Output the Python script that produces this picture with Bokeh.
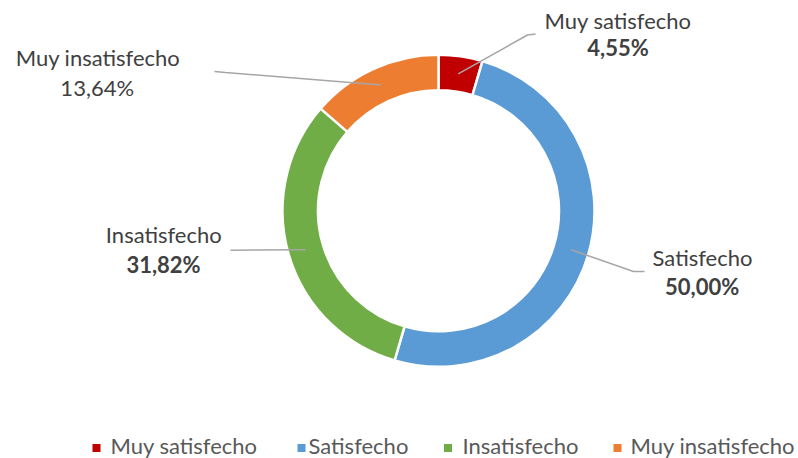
import math
from bokeh.plotting import figure
from bokeh.models import ColumnDataSource
from bokeh.core.properties import value
from bokeh.embed import file_html
from bokeh.resources import INLINE

# ---- data ----
categories = ["Muy satisfecho", "Satisfecho", "Insatisfecho", "Muy insatisfecho"]
percentages = [4.55, 50.00, 31.82, 13.64]
pct_labels = ["4,55%", "50,00%", "31,82%", "13,64%"]
pct_bold = [True, True, True, False]
colors = ["#C00000", "#5B9BD5", "#70AD47", "#ED7D31"]

# ---- layout (pixels in the picture) ----
W, H = 798, 458
FONT = "Lato"
FS = "22px"
TDY = -8.5  # text baseline correction

def X(xw):
    return xw

def Y(yw):
    return H - yw

cx_w, cy_w = 438.0, 210.3
r_out, r_in = 156.0, 120.5
r_mid = (r_out + r_in) / 2

p = figure(width=W, height=H, x_range=(0, W), y_range=(0, H),
           output_backend="svg", toolbar_location=None,
           min_border=0, min_border_left=0, min_border_right=0,
           min_border_top=0, min_border_bottom=0)
p.axis.visible = False
p.grid.visible = False
p.outline_line_color = None
p.background_fill_color = "white"
p.border_fill_color = "white"

# ---- donut wedges ----
total = sum(percentages)
starts, ends, mids = [], [], []
cum = 0.0
for v in percentages:
    f0 = cum / total
    cum += v
    f1 = cum / total
    starts.append(math.pi / 2 - f0 * 2 * math.pi)
    ends.append(math.pi / 2 - f1 * 2 * math.pi)
    mids.append((f0 + f1) / 2)

src = ColumnDataSource(dict(
    x=[X(cx_w)] * 4, y=[Y(cy_w)] * 4,
    start=starts, end=ends, color=colors, cat=categories))
p.annular_wedge(x="x", y="y", inner_radius=r_in, outer_radius=r_out,
                inner_radius_units="screen", outer_radius_units="screen",
                start_angle="start", end_angle="end", direction="clock",
                fill_color="color", line_color="white", line_width=2.5,
                source=src)

# ---- leader lines ----
elbows = [(527, 34.5), (633, 271), (232, 249.7), (225, 72)]
ends_pt = [(535, 33.5), (644, 271), (230, 249.7), (214, 71)]
for i, m in enumerate(mids):
    ang = m * 2 * math.pi
    sx = cx_w + r_mid * math.sin(ang)
    sy = cy_w - r_mid * math.cos(ang)
    xs = [X(sx), X(elbows[i][0]), X(ends_pt[i][0])]
    ys = [Y(sy), Y(elbows[i][1]), Y(ends_pt[i][1])]
    p.line(xs, ys, line_color="#A6A6A6", line_width=1.5)

# ---- data labels ----
name_pos = [(617.5, 28.3), (702, 265), (163.3, 242.7), (97.5, 65)]
pct_pos = [(617.5, 55), (701.7, 294), (163, 272.3), (96.7, 95)]
for i in range(4):
    p.text(x=[X(name_pos[i][0])], y=[Y(name_pos[i][1] + TDY)], text=[categories[i]],
           text_font=value(FONT), text_font_size=FS, text_color="#404040",
           text_align="center", text_baseline="alphabetic")
    p.text(x=[X(pct_pos[i][0])], y=[Y(pct_pos[i][1] + TDY)], text=[pct_labels[i]],
           text_font=value(FONT), text_font_size=FS, text_color="#404040",
           text_font_style="bold" if pct_bold[i] else "normal",
           text_align="center", text_baseline="alphabetic")

# ---- legend (manual) ----
sq_x = [96, 301, 447.5, 617]
txt_x = [110, 308, 462, 630]
leg_y = 447.5
p.rect(x=[X(v) for v in sq_x], y=[Y(leg_y)] * 4, width=8, height=8,
       width_units="screen", height_units="screen",
       fill_color=colors, line_color=None)
p.text(x=[X(v) for v in txt_x], y=[Y(453.3 + TDY)] * 4, text=categories,
       text_font=value(FONT), text_font_size=FS, text_color="#595959",
       text_align="left", text_baseline="alphabetic")

open("out.html", "w").write(file_html(p, INLINE))
